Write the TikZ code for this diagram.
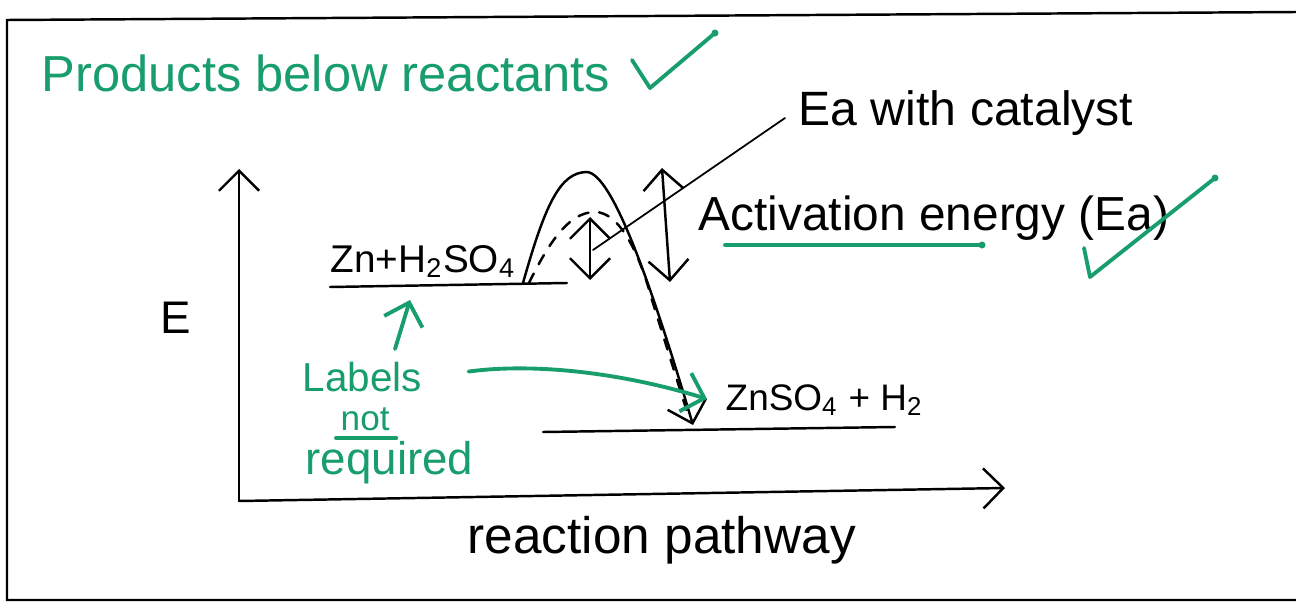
\documentclass[tikz,border=0pt]{standalone}
\usepackage{fontspec}
\setmainfont{Liberation Sans}
\usepackage{xcolor}
\usepackage{tikz}
\usetikzlibrary{arrows.meta,calc}
\definecolor{tutorgreen}{RGB}{24,158,108}

\begin{document}
\begin{tikzpicture}[x=0.01cm, y=-0.01cm,
    >={Straight Barb[length=2mm,width=4mm]},
    pen/.style={line width=0.7pt, line cap=round},
    ink/.style={tutorgreen, line width=1.1pt, line cap=round, line join=round},
    txt/.style={anchor=base west, inner sep=0pt}]

    \useasboundingbox (0,0) rectangle (1296,606);

    % Rahmen
    \draw[pen] (1296,12) -- (7,20) -- (7,600) -- (1296,600);

    % Achsen
    \coordinate (O) at (239,501);
    \coordinate (ytop) at (239,169);
    \coordinate (xend) at (1005,488);
    \draw[pen,->] (O) -- (ytop);
    \draw[pen,->] (O) -- (xend);
    \node[txt, font=\fontsize{13}{15}\selectfont] (Elab) at (160,333) {E};
    \node[txt, font=\fontsize{14.6}{17}\selectfont] (path) at (467,553) {reaction pathway};

    % Niveaus
    \coordinate (r1) at (330,287);
    \coordinate (r2) at (567,283);
    \coordinate (p1) at (543,432);
    \coordinate (p2) at (895,427);
    \draw[pen] (r1) -- (r2);
    \draw[pen] (p1) -- (p2);
    \node[txt, font=\fontsize{11}{13}\selectfont] (react) at (330,272) {Zn+H\textsubscript{2}SO\textsubscript{4}};
    \node[txt, font=\fontsize{10.5}{13}\selectfont] (prodl) at (725,410) {ZnSO\textsubscript{4} + H\textsubscript{2}};

    % Kurven (ohne / mit Katalysator)
    \coordinate (top) at (587,172);
    \coordinate (bot) at (693,425);
    \draw[pen,->] (523,283) .. controls (545,205) and (560,172) .. (top)
        .. controls (612,174) and (650,280) .. (bot);
    \draw[pen, dashed] (529,283) .. controls (550,240) and (570,212) .. (595,212)
        .. controls (620,212) and (640,255) .. (652,300) -- (688,415);

    % Ea-Pfeile
    \coordinate (cat1) at (590,217);
    \coordinate (cat2) at (590,280);
    \coordinate (ea1) at (662,168);
    \coordinate (ea2) at (670,282);
    \draw[pen,<->] (cat1) -- (cat2);
    \draw[pen,<->] (ea1) -- (ea2);
    \coordinate (leadfoot) at (593,250);
    \node[txt, font=\fontsize{13.7}{16}\selectfont] (eacat) at (798,125) {Ea with catalyst};
    \node[txt, font=\fontsize{13.6}{16}\selectfont] (actE) at (698,230) {Activation energy (Ea)};
    \draw[pen, line width=0.5pt] (leadfoot) -- ($(eacat.base west)+(-13,-7)$);

    % Korrektur (gruen)
    \node[txt, tutorgreen, font=\fontsize{14.4}{17}\selectfont] (prod) at (41,91) {Products below reactants};
    \draw[ink] (632,60) -- (650,88) -- (715,33);
    \fill[tutorgreen] (715,33) circle (3.5);
    \draw[ink] (1084,248) -- (1090,277) -- (1215,178);
    \fill[tutorgreen] (1215,178) circle (3.5);
    \draw[ink] (725,245) -- (982,245);
    \fill[tutorgreen] (982,245) circle (3.5);

    \node[txt, tutorgreen, font=\fontsize{11.5}{14}\selectfont] (lbl1) at (302,391) {Labels};
    \node[txt, tutorgreen, font=\fontsize{10}{12}\selectfont] (lbl2) at (340,430) {not};
    \node[txt, tutorgreen, font=\fontsize{13}{15}\selectfont] (lbl3) at (305,474) {required};
    \draw[ink] ($(lbl2.base west)+(-4,8)$) -- ($(lbl2.base east)+(6,8)$);

    \coordinate (upend) at (410,300);
    \draw[ink,->] ($(lbl1.north west)+(93,-12)$) -- (upend);
    \draw[ink,->] ($(lbl1.east)+(46,-5)$) .. controls (540,362) and (630,375) .. ($(prodl.west)+(-18,-1)$);

\end{tikzpicture}
\end{document}
